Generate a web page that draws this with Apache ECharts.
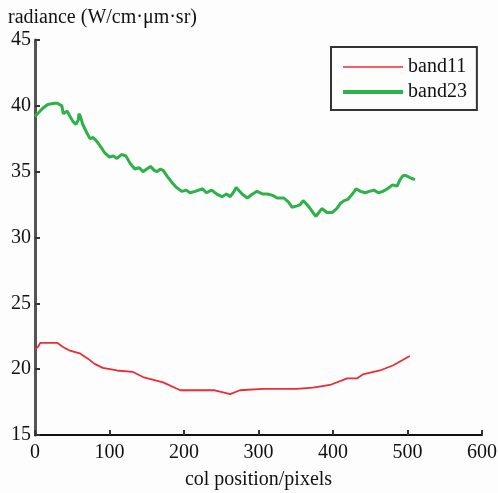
<!DOCTYPE html>
<html><head><meta charset="utf-8">
<script src="https://cdn.jsdelivr.net/npm/echarts@6/dist/echarts.min.js"></script>
<style>html,body{margin:0;padding:0;background:#fdfdfd}#c{width:498px;height:493px}</style>
</head><body><div id="c"></div>
<script>
const xTicks = [0, 100, 200, 300, 400, 500, 600];
const yTicks = [15, 20, 25, 30, 35, 40, 45];
const band11X = [0,4,7,20,30,37,47,60,71,80,91,110,131,145,172,195,218,240,262,275,306,329,351,373,396,419,432,440,463,481,503];
const band11Y = [21.5,21.7,22.0,22.0,22.0,21.7,21.4,21.2,20.8,20.4,20.1,19.9,19.8,19.4,19.0,18.4,18.4,18.4,18.1,18.4,18.5,18.5,18.5,18.6,18.8,19.3,19.3,19.6,19.9,20.3,21.0];
const band23X = [0,5,10,17,26,30,36,38,43,47,51,55,58,59,61,64,70,74,78,83,88,94,100,105,110,116,122,128,134,140,145,150,155,160,164,168,172,178,185,190,197,203,208,215,225,230,237,244,251,257,262,266,270,278,285,292,298,306,312,319,325,334,340,345,352,356,360,365,368,373,377,381,385,392,399,405,410,415,420,426,431,437,443,449,455,461,467,473,480,486,490,494,498,505,510];
const band23Y = [39.2,39.5,39.8,40.1,40.2,40.2,40.0,39.4,39.6,39.2,38.8,38.6,38.9,39.4,39.2,38.6,37.9,37.5,37.6,37.3,36.9,36.4,36.1,36.2,36.0,36.3,36.2,35.6,35.2,35.3,35.0,35.2,35.4,35.1,35.0,35.2,35.1,34.6,34.1,33.8,33.5,33.6,33.4,33.5,33.7,33.4,33.6,33.3,33.1,33.3,33.1,33.4,33.8,33.3,33.0,33.3,33.5,33.3,33.3,33.2,33.0,33.0,32.7,32.3,32.4,32.5,32.8,32.5,32.3,31.9,31.6,31.9,32.2,31.9,31.9,32.2,32.6,32.8,32.9,33.3,33.7,33.5,33.4,33.5,33.6,33.4,33.5,33.7,34.0,33.9,34.4,34.7,34.7,34.5,34.4];

const font = 'Liberation Serif';
const chart = echarts.init(document.getElementById('c'));
chart.setOption({
  backgroundColor: '#fdfdfd',
  animation: false,
  grid: {left: 35, right: 16, top: 40, bottom: 58, containLabel: false, outerBoundsMode: 'none'},
  legend: {
    left: 331, top: 47, orient: 'vertical',
    borderColor: '#333', borderWidth: 2,
    padding: [10, 10, 8, 10], itemGap: 5,
    itemWidth: 60, itemHeight: 14, itemTextGap: 8,
    itemStyle: {opacity: 0},
    textStyle: {fontFamily: font, fontSize: 20, color: '#111'},
    data: [
      {name: 'band11', lineStyle: {width: 1.5, color: '#ee2a35'}},
      {name: 'band23', lineStyle: {width: 4, color: '#2db24a'}}
    ]
  },
  xAxis: {
    type: 'value', min: 0, max: 600, interval: 100,
    name: 'col position/pixels', nameLocation: 'middle', nameGap: 35,
    nameTextStyle: {fontFamily: font, fontSize: 20, color: '#111'},
    axisLine: {lineStyle: {color: '#111', width: 2}},
    axisTick: {inside: true, length: 5, lineStyle: {color: '#333', width: 2}},
    axisLabel: {fontFamily: font, fontSize: 20, color: '#111', margin: 8},
    splitLine: {show: false}
  },
  yAxis: {
    type: 'value', min: 15, max: 45, interval: 5,
    name: 'radiance (W/cm·μm·sr)', nameLocation: 'end', nameGap: 12,
    nameTextStyle: {fontFamily: font, fontSize: 20, color: '#111', align: 'left', padding: [0, 0, 0, -27]},
    axisLine: {lineStyle: {color: '#555', width: 3}},
    axisTick: {inside: true, length: 5, lineStyle: {color: '#333', width: 2}},
    axisLabel: {fontFamily: font, fontSize: 20, color: '#111', margin: 4},
    splitLine: {show: false}
  },
  series: [
    {name: 'band11', type: 'line', symbol: 'none', data: band11X.map((x, i) => [x, band11Y[i]]),
     lineStyle: {color: '#ee2a35', width: 1.8}, itemStyle: {color: '#ee2a35'}},
    {name: 'band23', type: 'line', symbol: 'none', data: band23X.map((x, i) => [x, band23Y[i]]),
     lineStyle: {color: '#2db24a', width: 3}, itemStyle: {color: '#2db24a'}}
  ]
});
</script></body></html>
